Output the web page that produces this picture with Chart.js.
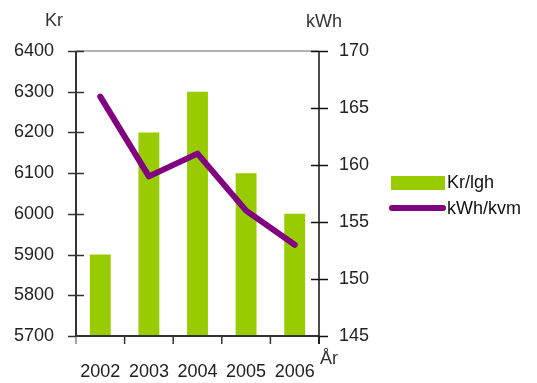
<!DOCTYPE html>
<html><head><meta charset="utf-8">
<script src="https://cdn.jsdelivr.net/npm/chart.js@4/dist/chart.umd.min.js"></script>
<style>html,body{margin:0;padding:0;background:#fff}#wrap{width:537px;height:383px}</style>
</head><body><div id="wrap"><canvas id="c" width="537" height="383"></canvas></div>
<script>
// Yearly values: cost per apartment (left axis) and energy per m² (right axis)
const years = ['2002', '2003', '2004', '2005', '2006'];
const krPerLgh = [5900, 6200, 6300, 6100, 6000];
const kwhPerKvm = [166, 159, 161, 156, 153];
const krAxisMin = 5700, krAxisMax = 6400, krStep = 100;
const kwhAxisMin = 145, kwhAxisMax = 170, kwhStep = 5;
const seriesNames = ['Kr/lgh', 'kWh/kvm'];
const unitLeft = 'Kr', unitRight = 'kWh', unitX = 'År';

const GREEN = '#99cc00';
const PURPLE = '#800080';
const SANS = '"Liberation Sans", Arial, sans-serif';
const tickFont = { family: SANS, size: 18 };
const plain = v => String(v);

// Axis lines, crossing tick marks, unit labels and legend
const decor = {
  id: 'decor',
  afterDatasetsDraw(chart) {
    const ctx = chart.ctx;
    const x = chart.scales.x, y = chart.scales.y, y1 = chart.scales.y1;
    const L = x.left, R = x.right, T = y.top, B = y.bottom;
    ctx.save();
    ctx.lineCap = 'butt';
    // top border line
    ctx.strokeStyle = '#9a9a9a'; ctx.lineWidth = 1.5;
    ctx.beginPath(); ctx.moveTo(L, T); ctx.lineTo(R, T); ctx.stroke();
    // left ticks
    ctx.strokeStyle = '#333'; ctx.lineWidth = 1.5;
    y.ticks.forEach(t => {
      const py = Math.round(y.getPixelForValue(t.value)) + 0.5;
      ctx.beginPath();
      ctx.moveTo(L - 8, py);
      ctx.lineTo(t.value === krAxisMin ? L : L + 8, py);
      ctx.stroke();
    });
    // right ticks
    ctx.strokeStyle = '#111';
    y1.ticks.forEach(t => {
      const py = Math.round(y1.getPixelForValue(t.value)) + 0.5;
      ctx.beginPath();
      ctx.moveTo(t.value === kwhAxisMin ? R : R - 8, py);
      ctx.lineTo(R + 9, py);
      ctx.stroke();
    });
    // category boundary ticks below the x axis
    const n = years.length;
    for (let i = 0; i <= n; i++) {
      let px;
      if (i === 0) px = L; else if (i === n) px = R;
      else px = (x.getPixelForValue(i - 1) + x.getPixelForValue(i)) / 2;
      ctx.strokeStyle = i === 0 ? '#888' : '#333';
      ctx.lineWidth = 1.5;
      ctx.beginPath(); ctx.moveTo(px, B); ctx.lineTo(px, B + 8); ctx.stroke();
    }
    // axis lines
    ctx.strokeStyle = '#333'; ctx.lineWidth = 2;
    ctx.beginPath(); ctx.moveTo(L, T); ctx.lineTo(L, B); ctx.lineTo(R, B); ctx.stroke();
    ctx.strokeStyle = '#111'; ctx.lineWidth = 1.5;
    ctx.beginPath(); ctx.moveTo(R, T); ctx.lineTo(R, B + 8); ctx.stroke();

    // unit labels
    ctx.fillStyle = '#333';
    ctx.textBaseline = 'middle';
    ctx.textAlign = 'center';
    ctx.font = '18px ' + SANS;
    ctx.fillText(unitLeft, 54, 21);
    ctx.fillText(unitRight, 324, 22);
    ctx.fillText(unitX, 329, 359);

    // legend
    ctx.fillStyle = GREEN;
    ctx.fillRect(391, 176, 54, 14);
    ctx.strokeStyle = PURPLE; ctx.lineWidth = 6; ctx.lineCap = 'round';
    ctx.beginPath(); ctx.moveTo(392, 208); ctx.lineTo(443, 208); ctx.stroke();
    ctx.fillStyle = '#111';
    ctx.textAlign = 'left';
    ctx.font = '18px ' + SANS;
    ctx.fillText(seriesNames[0], 447, 183);
    ctx.fillText(seriesNames[1], 447, 209);
    ctx.restore();
  }
};

new Chart(document.getElementById('c'), {
  data: {
    labels: years,
    datasets: [
      {
        type: 'line', label: seriesNames[1], data: kwhPerKvm, yAxisID: 'y1',
        borderColor: PURPLE, borderWidth: 6, pointRadius: 0,
        borderCapStyle: 'round', borderJoinStyle: 'round', tension: 0, order: 0
      },
      {
        type: 'bar', label: seriesNames[0], data: krPerLgh, yAxisID: 'y',
        backgroundColor: GREEN, borderWidth: 0,
        categoryPercentage: 1, barPercentage: 0.43, order: 1
      }
    ]
  },
  options: {
    responsive: false,
    animation: false,
    devicePixelRatio: 1,
    layout: { padding: { top: 51, left: 0, right: 0, bottom: 0 } },
    plugins: { legend: { display: false }, tooltip: { enabled: false } },
    scales: {
      x: {
        type: 'category', offset: true,
        grid: { display: false, drawTicks: false },
        border: { display: false },
        ticks: { color: '#222', font: tickFont, padding: 25, maxRotation: 0 },
        afterFit(s) { s.height = 47; }
      },
      y: {
        position: 'left', min: krAxisMin, max: krAxisMax,
        grid: { display: false, drawTicks: false },
        border: { display: false },
        ticks: { stepSize: krStep, color: '#222', font: tickFont, padding: 22, callback: plain },
        afterFit(s) { s.width = 76; }
      },
      y1: {
        position: 'right', min: kwhAxisMin, max: kwhAxisMax,
        grid: { display: false, drawTicks: false },
        border: { display: false },
        ticks: { stepSize: kwhStep, color: '#222', font: tickFont, padding: 20, callback: plain },
        afterFit(s) { s.width = 218; }
      }
    }
  },
  plugins: [decor]
});
</script>
</body></html>
